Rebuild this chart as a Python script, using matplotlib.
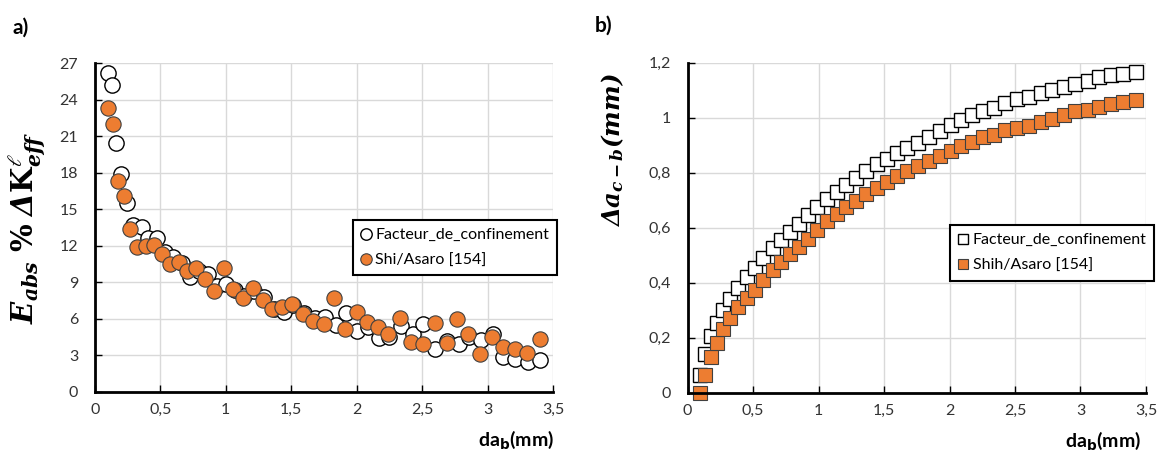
import matplotlib
matplotlib.use("Agg")
import matplotlib.pyplot as plt
from matplotlib.ticker import MultipleLocator, FuncFormatter

# ---- data ----
# left panel: relative error E_abs (%) vs da_b (mm)
x_conf_err = [0.099, 0.13, 0.163, 0.2, 0.244, 0.295, 0.359, 0.41, 0.473, 0.537, 0.6, 0.664,
              0.727, 0.795, 0.863, 0.93, 1.0, 1.07, 1.14, 1.216, 1.29, 1.37, 1.445, 1.516,
              1.6, 1.68, 1.76, 1.84, 1.92, 2.0, 2.09, 2.17, 2.25, 2.34, 2.43, 2.51, 2.6,
              2.69, 2.78, 2.86, 2.95, 3.04, 3.12, 3.21, 3.31, 3.40]
err_conf = [26.2, 25.2, 20.45, 17.9, 15.55, 13.7, 13.55, 12.6, 12.6, 11.5, 11.1, 10.6,
            9.4, 9.9, 9.67, 8.7, 8.85, 8.38, 7.91, 8.3, 7.78, 6.8, 6.6, 7.1,
            6.45, 6.1, 6.19, 5.5, 6.47, 5.0, 5.3, 4.41, 4.5, 5.4, 4.8, 5.59, 3.52,
            4.2, 3.97, 4.52, 4.3, 4.77, 2.88, 2.74, 2.49, 2.63]

x_shi_err = [0.099, 0.137, 0.18, 0.22, 0.27, 0.32, 0.39, 0.45, 0.51, 0.575, 0.64, 0.707,
             0.773, 0.84, 0.913, 0.987, 1.058, 1.135, 1.21, 1.287, 1.356, 1.432, 1.51,
             1.59, 1.67, 1.75, 1.83, 1.91, 2.0, 2.076, 2.16, 2.24, 2.33, 2.415, 2.51,
             2.60, 2.69, 2.77, 2.85, 2.94, 3.035, 3.12, 3.21, 3.305, 3.40]
err_shi = [23.3, 22.0, 17.3, 16.1, 13.4, 11.9, 12.0, 12.1, 11.3, 10.5, 10.7, 9.93,
           10.2, 9.27, 8.3, 10.2, 8.45, 7.75, 8.52, 7.56, 6.82, 7.01, 7.2,
           6.41, 5.86, 5.59, 7.7, 5.18, 6.55, 5.73, 5.32, 4.8, 6.05, 4.13, 3.94,
           5.64, 4.05, 5.97, 4.74, 3.12, 4.54, 3.72, 3.53, 3.23, 4.35]

# right panel: delta a_{c-b} (mm) vs da_b (mm)
x_da = [0.092, 0.136, 0.177, 0.221, 0.269, 0.323, 0.385, 0.452, 0.515, 0.577, 0.652,
        0.715, 0.785, 0.852, 0.921, 0.985, 1.067, 1.141, 1.212, 1.285, 1.362, 1.446,
        1.523, 1.600, 1.677, 1.759, 1.846, 1.925, 2.010, 2.087, 2.169, 2.254, 2.338,
        2.425, 2.515, 2.605, 2.695, 2.785, 2.875, 2.959, 3.054, 3.144, 3.233, 3.323, 3.425]
da_conf = [0.065, 0.14, 0.205, 0.255, 0.30, 0.34, 0.38, 0.42, 0.455, 0.49, 0.525,
           0.555, 0.585, 0.615, 0.645, 0.675, 0.706, 0.73, 0.755, 0.78, 0.806, 0.83,
           0.85, 0.87, 0.888, 0.907, 0.929, 0.951, 0.972, 0.99, 1.01, 1.024, 1.036,
           1.052, 1.068, 1.075, 1.088, 1.099, 1.111, 1.123, 1.135, 1.147, 1.154, 1.16, 1.165]
da_shih = [0.0, 0.066, 0.13, 0.18, 0.23, 0.27, 0.31, 0.345, 0.375, 0.41, 0.445,
           0.475, 0.505, 0.53, 0.56, 0.59, 0.624, 0.651, 0.675, 0.697, 0.722, 0.746,
           0.767, 0.789, 0.807, 0.823, 0.843, 0.862, 0.880, 0.898, 0.913, 0.928, 0.938,
           0.954, 0.962, 0.969, 0.986, 0.994, 1.008, 1.023, 1.029, 1.039, 1.048, 1.057, 1.063]

orange = "#ED7D31"

plt.rcParams['font.family'] = ['Lato', 'DejaVu Sans']
plt.rcParams['mathtext.fontset'] = 'dejavuserif'


def comma(v, pos):
    return ("%g" % v).replace(".", ",")


def style_axes(ax, ymax, ystep):
    ax.set_xlim(0, 3.5)
    ax.set_ylim(0, ymax)
    ax.xaxis.set_major_locator(MultipleLocator(0.5))
    ax.yaxis.set_major_locator(MultipleLocator(ystep))
    ax.xaxis.set_major_formatter(FuncFormatter(comma))
    ax.yaxis.set_major_formatter(FuncFormatter(comma))
    ax.grid(True, color="#d9d9d9", linewidth=1)
    ax.set_axisbelow(True)
    for s in ["top", "right"]:
        ax.spines[s].set_visible(False)
    for s in ["left", "bottom"]:
        ax.spines[s].set_linewidth(2)
        ax.spines[s].set_color("black")
    ax.tick_params(direction="in", length=5, width=1, labelsize=11.5,
                   labelcolor="#333333", pad=8)
    ax.tick_params(axis="y", pad=12)


fig = plt.figure(figsize=(11.61, 4.54), dpi=100)

# ---- left panel ----
ax1 = fig.add_axes([0.0816, 0.1366, 0.3947, 0.7246])
ax1.plot(x_conf_err, err_conf, "o", ms=11, mfc="white", mec="black", mew=1,
         label="Facteur_de_confinement", clip_on=False)
ax1.plot(x_shi_err, err_shi, "o", ms=11, mfc=orange, mec="#404040", mew=0.8,
         label="Shi/Asaro [154]", clip_on=False)
style_axes(ax1, 27, 3)
ax1.set_xlabel(r"da$_\mathbf{b}$(mm)", fontsize=14, fontweight="bold",
               math_fontfamily="dejavusans")
ax1.xaxis.set_label_coords(0.92, -0.11)
ax1.set_ylabel(r"$\mathbfit{E_{abs}}\ \mathbf{\%}\ \mathbfit{\Delta}\mathbf{K}^{\ell}_{\mathbfit{eff}}$",
               fontsize=21)
ax1.yaxis.set_label_coords(-0.1, 0.5)
leg1 = ax1.legend(loc="upper left", bbox_to_anchor=(0.563, 0.523), borderaxespad=0,
                  fontsize=11.5, markerscale=0.75, handlelength=0.6, handletextpad=0.3,
                  fancybox=False, framealpha=1, edgecolor="black", borderpad=0.5,
                  labelspacing=0.7)
leg1.get_frame().set_linewidth(1.5)
fig.text(0.011, 0.925, "a)", fontsize=15, fontweight="bold")

# ---- right panel ----
ax2 = fig.add_axes([0.5923, 0.135, 0.3947, 0.727])
ax2.plot(x_da, da_conf, "s", ms=10, mfc="white", mec="black", mew=1,
         label="Facteur_de_confinement", clip_on=False)
ax2.plot(x_da, da_shih, "s", ms=10, mfc=orange, mec="#404040", mew=0.8,
         label="Shih/Asaro [154]", clip_on=False)
style_axes(ax2, 1.2, 0.2)
ax2.set_xlabel(r"da$_\mathbf{b}$(mm)", fontsize=14, fontweight="bold",
               math_fontfamily="dejavusans")
ax2.xaxis.set_label_coords(0.907, -0.11)
ax2.set_ylabel(r"$\mathbfit{\Delta a_{c-b}(mm)}$", fontsize=17.5)
ax2.yaxis.set_label_coords(-0.135, 0.735)
leg2 = ax2.legend(loc="upper left", bbox_to_anchor=(0.573, 0.508), borderaxespad=0,
                  fontsize=11.5, markerscale=0.75, handlelength=0.6, handletextpad=0.3,
                  fancybox=False, framealpha=1, edgecolor="black", borderpad=0.5,
                  labelspacing=0.7)
leg2.get_frame().set_linewidth(1.5)
fig.text(0.512, 0.93, "b)", fontsize=15, fontweight="bold")

fig.savefig("out.png", dpi=100)
